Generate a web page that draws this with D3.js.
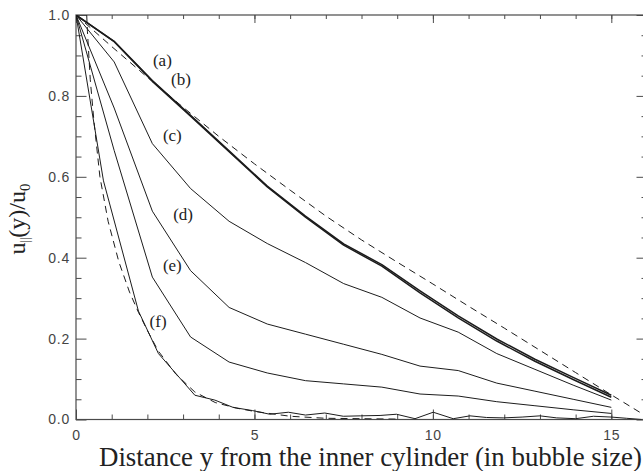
<!DOCTYPE html>
<html><head><meta charset="utf-8">
<script src="https://cdn.jsdelivr.net/npm/d3@7"></script>
<style>body{margin:0;background:#fff} svg{display:block}</style>
</head><body><svg id="c" width="643" height="471"></svg>
<script>
// ---- data ----
const xNodes = [0, 1.07, 2.14, 3.21, 4.29, 5.36, 6.43, 7.5, 8.57, 9.64, 10.71, 11.79, 12.86, 13.93, 15.0];
const curveA = [1.0, 0.935, 0.838, 0.752, 0.664, 0.577, 0.503, 0.434, 0.383, 0.318, 0.256, 0.199, 0.149, 0.104, 0.060];
const curveB = [1.0, 0.934, 0.836, 0.750, 0.662, 0.575, 0.500, 0.431, 0.379, 0.313, 0.251, 0.194, 0.144, 0.099, 0.055];
const curveC = [1.0, 0.884, 0.682, 0.571, 0.490, 0.435, 0.388, 0.336, 0.302, 0.251, 0.216, 0.163, 0.124, 0.085, 0.048];
const curveD = [1.0, 0.770, 0.515, 0.368, 0.277, 0.236, 0.211, 0.186, 0.161, 0.132, 0.121, 0.090, 0.070, 0.050, 0.030];
const curveE = [1.0, 0.665, 0.352, 0.204, 0.142, 0.115, 0.096, 0.088, 0.080, 0.063, 0.058, 0.044, 0.034, 0.024, 0.015];

const xF = [0, 0.77, 1.75, 2.31, 3.33, 3.89, 4.4, 4.95, 5.43, 5.95, 6.43, 6.97, 7.49, 7.97, 8.52, 8.98, 9.5, 10.01, 10.57, 11.04, 11.5, 11.97, 12.5, 13.0, 13.47, 14.0, 14.5, 15.0, 15.43, 15.85];
const curveF = [1.0, 0.59, 0.268, 0.163, 0.060, 0.048, 0.030, 0.022, 0.013, 0.018, 0.011, 0.016, 0.008, 0.009, 0.010, 0.013, 0.002, 0.018, 0.002, 0.009, 0.005, 0.004, 0.006, 0.009, 0.004, 0.002, 0.008, 0.006, 0.003, 0.0];

const xFitLin = [0, 1, 2, 3, 4, 5, 6, 7, 8, 9, 10, 11, 12, 13, 14, 15, 16];
const fitLin = [1.0, 0.922, 0.846, 0.772, 0.700, 0.632, 0.567, 0.503, 0.444, 0.389, 0.335, 0.280, 0.226, 0.171, 0.116, 0.061, 0.007];

const xFitExp = [0.3, 0.32, 0.4, 0.5, 0.67, 0.9, 1.2, 1.5, 1.75, 2.0, 2.3, 2.8, 3.33, 3.9, 4.5, 5.0, 6.0, 7.0, 8.0, 9.0];
const fitExp = [1.0, 0.96, 0.84, 0.74, 0.60, 0.49, 0.39, 0.315, 0.265, 0.22, 0.17, 0.112, 0.068, 0.042, 0.028, 0.020, 0.008, 0.003, 0.002, 0.001];

const curveNames = ["(a)", "(b)", "(c)", "(d)", "(e)", "(f)"];
const xMajorTicks = [0, 5, 10, 15];
const xMinorTicks = [0, 1, 2, 3, 4, 5, 6, 7, 8, 9, 10, 11, 12, 13, 14, 15, 16];
const yMajorTicks = [0.0, 0.2, 0.4, 0.6, 0.8, 1.0];
const yMinorTicks = [0.05, 0.1, 0.15, 0.25, 0.3, 0.35, 0.45, 0.5, 0.55, 0.65, 0.7, 0.75, 0.85, 0.9, 0.95];
const xTitle = "Distance y from the inner cylinder (in bubble size)";

// annotation anchors (data units), layout only
const labelAnchors = [[2.42, 0.888], [2.94, 0.841], [2.70, 0.703], [3.0, 0.508], [2.70, 0.381], [2.30, 0.243]];

// ---- layout ----
const svg = d3.select('#c');
const x = d3.scaleLinear().domain([0, 16]).range([76, 647]);
const y = d3.scaleLinear().domain([0, 1]).range([419.5, 15]);
const axisColor = '#4a4a4a';
const lineColor = '#1c1c1c';

svg.append('defs').append('clipPath').attr('id', 'clip')
  .append('rect').attr('x', 76).attr('y', 15).attr('width', 571).attr('height', 404.5);

const tickFont = "'Liberation Sans', Arial, Helvetica, sans-serif";

function styleAxis(g) {
  g.select('.domain').remove();
  g.selectAll('.tick line').attr('stroke', axisColor).attr('stroke-width', 1);
  g.selectAll('.tick text').attr('fill', '#444').style('font-family', tickFont)
    .style('font-size', '14px').style('letter-spacing', '0.8px');
}

// bottom
svg.append('g').attr('transform', `translate(0,${y(0)})`)
  .call(d3.axisBottom(x).tickValues(xMinorTicks).tickSize(-5).tickFormat('')).call(styleAxis);
svg.append('g').attr('transform', `translate(0,${y(0)})`)
  .call(d3.axisBottom(x).tickValues(xMajorTicks).tickSize(-10).tickPadding(11).tickFormat(d3.format('d'))).call(styleAxis);
// top
svg.append('g').attr('transform', `translate(0,${y(1)})`)
  .call(d3.axisTop(x).tickValues(xMinorTicks).tickSize(-4).tickFormat('')).call(styleAxis);
svg.append('g').attr('transform', `translate(0,${y(1)})`)
  .call(d3.axisTop(x).tickValues(xMajorTicks).tickSize(-8).tickFormat('')).call(styleAxis);
// left
svg.append('g').attr('transform', `translate(${x(0)},0)`)
  .call(d3.axisLeft(y).tickValues(yMinorTicks).tickSize(-5.5).tickFormat('')).call(styleAxis);
svg.append('g').attr('transform', `translate(${x(0)},0)`)
  .call(d3.axisLeft(y).tickValues(yMajorTicks).tickSize(-10.5).tickPadding(6).tickFormat(d3.format('.1f'))).call(styleAxis);
// right
svg.append('g').attr('transform', `translate(${x(16)},0)`)
  .call(d3.axisRight(y).tickValues(yMinorTicks).tickSize(-5.5).tickFormat('')).call(styleAxis);
svg.append('g').attr('transform', `translate(${x(16)},0)`)
  .call(d3.axisRight(y).tickValues(yMajorTicks).tickSize(-10.5).tickFormat('')).call(styleAxis);

// frame
svg.append('rect').attr('x', x(0)).attr('y', y(1)).attr('width', x(16) - x(0)).attr('height', y(0) - y(1))
  .attr('fill', 'none').attr('stroke', axisColor).attr('stroke-width', 1.2);

// ---- curves ----
const line = d3.line().x(d => x(d[0])).y(d => y(d[1]));
const plot = svg.append('g').attr('clip-path', 'url(#clip)');
function draw(xs, vs, w, dash) {
  plot.append('path').datum(xs.map((xv, i) => [xv, vs[i]]))
    .attr('d', line).attr('fill', 'none').attr('stroke', lineColor)
    .attr('stroke-width', w).attr('stroke-linejoin', 'round')
    .attr('stroke-dasharray', dash || null);
}
draw(xFitLin, fitLin, 1, '7,5');
draw(xFitExp, fitExp, 1, '7,5');
draw(xNodes, curveA, 1.5);
draw(xNodes, curveB, 1.5);
draw(xNodes, curveC, 1);
draw(xNodes, curveD, 1);
draw(xNodes, curveE, 1);
draw(xF, curveF, 1);

// curve labels
svg.append('g').selectAll('text').data(curveNames).join('text')
  .attr('x', (d, i) => x(labelAnchors[i][0]))
  .attr('y', (d, i) => y(labelAnchors[i][1]))
  .attr('text-anchor', 'middle').attr('dominant-baseline', 'central')
  .style('font-family', "'Liberation Serif', 'Times New Roman', serif")
  .style('font-size', '17px').attr('fill', '#222')
  .text(d => d);

// ---- titles ----
const serif = "'Liberation Serif', 'Times New Roman', serif";
const xt = svg.append('text').attr('x', 370.5).attr('y', 466).attr('text-anchor', 'middle')
  .style('font-family', serif).style('font-size', '22px').attr('fill', '#222').text(xTitle);
const len = xt.node().getComputedTextLength();
const fs = 22 * 543 / len;
xt.style('font-size', fs + 'px');

const yfs = 24;
const yt = svg.append('text').attr('transform', 'translate(25,219) rotate(-90)')
  .attr('text-anchor', 'middle').style('font-family', serif).style('font-size', yfs + 'px').attr('fill', '#222');
yt.append('tspan').text('u');
yt.append('tspan').attr('dy', 4).style('font-size', (yfs * 0.5) + 'px').text('||');
yt.append('tspan').attr('dy', -4).text('(y)/u');
yt.append('tspan').attr('dy', 5).style('font-size', (yfs * 0.62) + 'px').text('0');
</script></body></html>
